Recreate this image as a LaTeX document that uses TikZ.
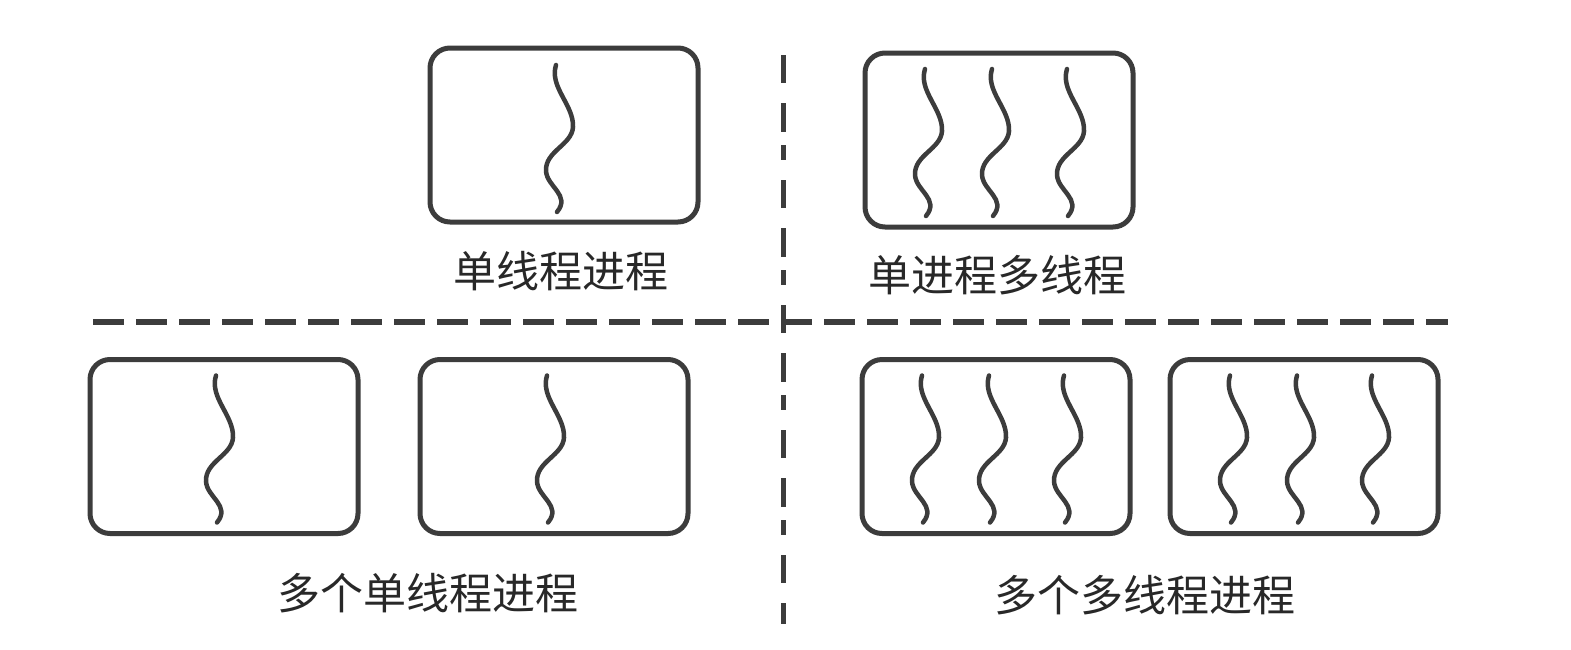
\documentclass[tikz,border=0pt]{standalone}
\usepackage{fontspec}
\newfontfamily\cjk{Noto Sans CJK SC}
\definecolor{ink}{RGB}{60,60,60}
\definecolor{txt}{RGB}{40,40,40}
\tikzset{
  procbox/.style={draw=ink, line width=5pt, rounded corners=20pt, minimum width=268pt, minimum height=174pt, inner sep=0pt, fill=white},
  threadline/.style={draw=ink, line width=4.5pt, line cap=round},
  lbl/.style={inner sep=0pt, text=txt, font=\cjk\fontsize{43}{43}\selectfont},
  hdash/.style={draw=ink, line width=6pt, dash pattern=on 31pt off 12pt},
  vdash/.style={draw=ink, line width=5pt, dash pattern=on 28pt off 20pt on 29pt off 13pt on 15pt off 20pt},
  wavy/.pic={\draw[threadline] (0,0) .. controls (-7,22) and (18,40) .. (17,62) .. controls (16,80) and (-11,86) .. (-10,106) .. controls (-9,122) and (15,130) .. (1,147);}
}
\begin{document}
\begin{tikzpicture}[x=1pt,y=-1pt]
\useasboundingbox[fill=white] (0,0) rectangle (1571,649);
% divider lines
\coordinate (h1) at (93,322);
\coordinate (h2) at (1448,322);
\coordinate (v1) at (783,55);
\coordinate (v2) at (783,624);
\draw[hdash] (h1) -- (h2);
\draw[vdash] (v1) -- (v2);
% boxes
\node[procbox] (A) at (564,135) {};
\node[procbox] (B) at (999,140) {};
\node[procbox] (C) at (224,446.5) {};
\node[procbox] (D) at (554,446.5) {};
\node[procbox] (E) at (996,446.5) {};
\node[procbox] (F) at (1304,446.5) {};
% threads
\pic at ([shift={(-8,-70)}]A.center) {wavy};
\foreach \n in {B,E,F}{
  \pic at ([shift={(-74,-71)}]\n.center) {wavy};
  \pic at ([shift={(-7,-71)}]\n.center) {wavy};
  \pic at ([shift={(68,-71)}]\n.center) {wavy};
}
\pic at ([shift={(-8,-71)}]C.center) {wavy};
\pic at ([shift={(-7,-71)}]D.center) {wavy};
% labels
\node[lbl] (la) at (561,271) {单线程进程};
\node[lbl] (lb) at (997,275) {单进程多线程};
\node[lbl] (lc) at (428,593) {多个单线程进程};
\node[lbl] (ld) at (1145,595) {多个多线程进程};
\end{tikzpicture}
\end{document}
